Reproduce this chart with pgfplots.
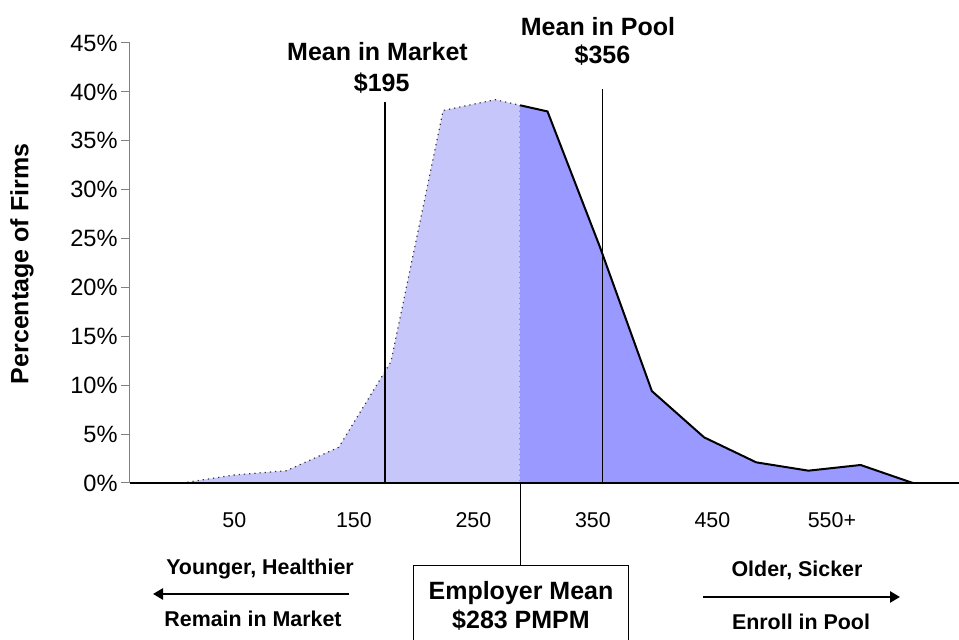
\documentclass[border=0pt]{standalone}
\usepackage{fontspec}
\setmainfont{Liberation Sans}
\usepackage{pgfplots}
\pgfplotsset{compat=1.18}
\usepackage{pgfplotstable}
\usetikzlibrary{arrows.meta}
\definecolor{poolblue}{HTML}{9999FF}
\definecolor{mktblue}{RGB}{198,198,250}

\pgfplotstableread{
x y
0 0
1 0.82
2 1.26
3 3.65
4 12.4
5 38.1
6 39.2
6.475 38.63
}\leftdata

\pgfplotstableread{
x y
6.475 38.63
7 38.0
8 24.2
9 9.4
10 4.67
11 2.11
12 1.26
13 1.84
14 0
}\rightdata

\newcommand{\PX}[2]{({#1*0.5pt},{(640-#2)*0.5pt})}
\newcommand{\bigb}{\fontsize{12.5}{15}\selectfont\bfseries}
\newcommand{\smallb}{\fontsize{10.7}{13}\selectfont\bfseries}

\begin{document}
\begin{tikzpicture}
\useasboundingbox (0,0) rectangle (479.5pt,320pt);
\begin{axis}[
  at={(65pt,78.5pt)}, anchor=south west,
  scale only axis, width=414.5pt, height=220pt,
  xmin=-1, xmax=14.885, ymin=0, ymax=45,
  axis lines=left, axis line style={-},
  x axis line style={black, line width=1pt},
  y axis line style={black!50, line width=0.5pt},
  axis on top, clip=false,
  /pgf/number format/assume math mode=true,
  ytick={0,5,...,45},
  yticklabel={\pgfmathprintnumber{\tick}\%},
  yticklabel style={font=\fontsize{11.8}{14}\selectfont, inner sep=0pt, xshift=-1.5pt},
  xtick={1,3.29,5.58,7.87,10.16,12.45},
  xticklabels={50,150,250,350,450,550+},
  xticklabel style={font=\fontsize{10.7}{13}\selectfont, anchor=base, yshift=-17.85pt},
  tick align=outside, major tick length=4.5pt,
  y tick style={black!50, line width=0.5pt},
  x tick style={draw=none},
]
\addplot[fill=mktblue, draw=black!80, dotted, line width=0.6pt] table[x=x,y=y]{\leftdata} \closedcycle;
\addplot[fill=poolblue, draw=none] table[x=x,y=y]{\rightdata} \closedcycle;
\addplot[black, line width=1pt] table[x=x,y=y]{\rightdata};
\addplot[black, line width=0.75pt] coordinates {(3.889,0) (3.889,38.97)};
\addplot[black, line width=0.75pt] coordinates {(8.056,0) (8.056,40.3)};
\addplot[black, line width=0.5pt] coordinates {(6.475,0) (6.475,-8.49)};
\end{axis}

\node[rotate=90, font=\bigb] at \PX{22}{264} {Percentage of Firms};

\node[anchor=base, font=\bigb] at \PX{377.5}{61} {Mean in Market};
\node[anchor=base, font=\bigb] at \PX{381.7}{92} {\$195};
\node[anchor=base, font=\bigb] at \PX{598}{36} {Mean in Pool};
\node[anchor=base, font=\bigb] at \PX{602.5}{64} {\$356};

\draw[black, line width=0.5pt] \PX{413}{700} -- \PX{413}{566} -- \PX{628}{566} -- \PX{628}{700};
\node[anchor=base, font=\bigb] at \PX{521}{600} {Employer Mean};
\node[anchor=base, font=\bigb] at \PX{521}{629} {\$283 PMPM};

\node[anchor=base, font=\smallb] at \PX{260}{575} {Younger, Healthier};
\node[anchor=base, font=\smallb] at \PX{253}{627} {Remain in Market};
\draw[line width=1.4pt, -{Triangle[length=5pt,width=5.5pt]}] \PX{349}{594} -- \PX{153}{594};

\node[anchor=base, font=\smallb] at \PX{797}{577} {Older, Sicker};
\node[anchor=base, font=\smallb] at \PX{801}{630} {Enroll in Pool};
\draw[line width=1.4pt, -{Triangle[length=5pt,width=5.5pt]}] \PX{703}{597} -- \PX{900}{597};
\end{tikzpicture}
\end{document}
